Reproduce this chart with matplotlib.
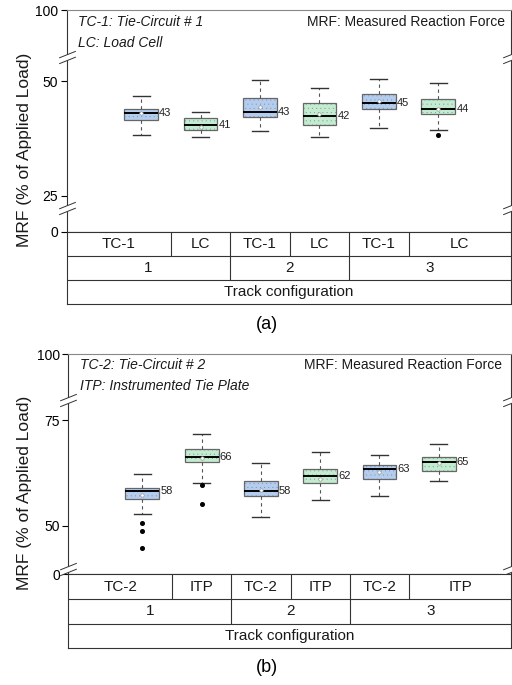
import matplotlib
matplotlib.use('Agg')
import matplotlib.pyplot as plt
import numpy as np
from matplotlib.path import Path
from matplotlib.patches import PathPatch
from matplotlib import transforms

plt.rcParams['font.family'] = ['Liberation Sans', 'DejaVu Sans']
plt.rcParams['hatch.linewidth'] = 0.1

# ---- data ----
configs = ['1', '2', '3']
labels_a = ['TC-1', 'LC', 'TC-1', 'LC', 'TC-1', 'LC']
labels_b = ['TC-2', 'ITP', 'TC-2', 'ITP', 'TC-2', 'ITP']

a_whislo = [38.3, 37.8, 39.2, 37.8, 39.9, 39.3]
a_q1 = [41.5, 39.4, 42.3, 40.5, 43.9, 43.0]
a_med = [43.2, 40.5, 43.3, 42.4, 45.2, 43.9]
a_q3 = [44.1, 42.0, 46.3, 45.3, 47.3, 46.2]
a_whishi = [46.8, 43.4, 50.3, 48.5, 50.5, 49.6]
a_mean = [43.2, 40.0, 44.5, 43.0, 45.7, 44.1]
a_fliers = [[], [], [], [], [], [38.4]]
a_values = [43, 41, 43, 42, 45, 44]

b_whislo = [52.8, 60.1, 52.0, 56.0, 57.0, 60.6]
b_q1 = [56.3, 65.0, 57.0, 60.1, 61.1, 63.1]
b_med = [58.2, 66.4, 58.3, 61.9, 63.4, 65.0]
b_q3 = [59.0, 68.2, 60.7, 63.4, 64.5, 66.3]
b_whishi = [62.2, 71.8, 64.9, 67.4, 66.7, 69.3]
b_mean = [57.4, 66.0, 58.5, 61.2, 62.7, 64.8]
b_fliers = [[50.6, 48.8, 44.7], [59.6, 55.1], [], [], [], []]
b_values = [58, 66, 58, 62, 63, 65]

blue = '#b4cdef'
green = '#c3ebd0'
box_colors = [blue, green, blue, green, blue, green]

W, H = 512, 685
fig = plt.figure(figsize=(W / 100, H / 100), dpi=100)


def rect(left, top, right, bottom):
    return [left / W, 1 - bottom / H, (right - left) / W, (bottom - top) / H]


# marker for the axis break: white gap + two slanted strokes
gap_marker = Path([(-1, -0.75), (1, 0.05), (1, 0.75), (-1, -0.05), (-1, -0.75)],
                  [Path.MOVETO, Path.LINETO, Path.LINETO, Path.LINETO, Path.CLOSEPOLY])
slash_marker = Path([(-1, -0.05), (1, 0.75), (-1, -0.75), (1, 0.05)],
                    [Path.MOVETO, Path.LINETO, Path.MOVETO, Path.LINETO])


def panel(main_px, table_bottom, knots_val, knots_pos, yticks, breaks,
          whislo, q1, med, q3, whishi, mean, fliers, values, row0, notes):
    left, top, right, bottom = main_px
    ax = fig.add_axes(rect(left, top, right, bottom))
    fwd = lambda y: np.interp(y, knots_val, knots_pos)
    inv = lambda p: np.interp(p, knots_pos, knots_val)
    ax.set_yscale('function', functions=(fwd, inv))
    ax.set_ylim(0, 100)
    ax.set_xlim(-0.25, 7.22)

    stats = []
    for i in range(6):
        stats.append(dict(whislo=whislo[i], q1=q1[i], med=med[i], q3=q3[i],
                          whishi=whishi[i], mean=mean[i], fliers=fliers[i]))
    pos = np.arange(1, 7)
    bp = ax.bxp(stats, positions=pos, widths=0.57, patch_artist=True, showmeans=True,
                boxprops=dict(edgecolor='#666666', linewidth=0.9),
                medianprops=dict(color='black', linewidth=1.4, zorder=4),
                whiskerprops=dict(color='#555555', linewidth=0.8, linestyle=(0, (3, 3))),
                capprops=dict(color='#333333', linewidth=1.0),
                meanprops=dict(marker='o', markersize=2.5, markerfacecolor='white',
                               markeredgecolor='#999999', markeredgewidth=0.5, zorder=4),
                flierprops=dict(marker='o', markersize=2.6, markerfacecolor='black',
                                markeredgecolor='black'))
    for patch, c in zip(bp['boxes'], box_colors):
        patch.set_facecolor(c)
        # light dotted texture drawn on top of the fill
        tex = PathPatch(patch.get_path(), transform=patch.get_transform(),
                        facecolor='none', edgecolor='#6f7f8f', linewidth=0,
                        hatch='....', zorder=patch.get_zorder() + 0.1)
        ax.add_patch(tex)
    for x, m, v in zip(pos, med, values):
        ax.text(x + 0.3, m, str(v), fontsize=8, ha='left', va='center', color='#222222')

    ax.set_yticks(yticks)
    ax.set_yticklabels([str(t) for t in yticks])
    ax.set_xticks([])
    ax.yaxis.set_minor_locator(matplotlib.ticker.NullLocator())
    ax.tick_params(axis='y', length=4, width=0.8, labelsize=10, pad=2)
    for s in ax.spines.values():
        s.set_linewidth(0.8)
        s.set_color('#333333')
    ax.spines['top'].set_color('#888888')

    # axis breaks on both sides
    for xa in (0, 1):
        tr = transforms.blended_transform_factory(ax.transAxes, ax.transData)
        for b in breaks:
            ax.plot([xa], [b], marker=gap_marker, markersize=12, color='white',
                    markeredgewidth=0, transform=tr, clip_on=False, zorder=5)
            ax.plot([xa], [b], marker=slash_marker, markersize=12, color='#333333',
                    markerfacecolor='none', markeredgewidth=0.7, linestyle='none',
                    transform=tr, clip_on=False, zorder=6)

    # category table below the plot
    tax = fig.add_axes(rect(left, bottom, right, table_bottom))
    tax.set_xlim(-0.25, 7.22)
    tax.set_ylim(3, 0)
    tax.set_xticks([])
    tax.set_yticks([])
    for s in tax.spines.values():
        s.set_linewidth(0.8)
        s.set_color('#333333')
    tax.hlines([1, 2], -0.25, 7.22, color='#333333', linewidth=0.8)
    tax.vlines([1.5, 2.5, 3.5, 4.5, 5.5], 0, 1, color='#333333', linewidth=0.8)
    tax.vlines([2.5, 4.5], 1, 2, color='#333333', linewidth=0.8)
    col_edges = [-0.25, 1.5, 2.5, 3.5, 4.5, 5.5, 7.22]
    for i, lab in enumerate(row0):
        tax.text((col_edges[i] + col_edges[i + 1]) / 2, 0.5, lab, ha='center', va='center',
                 fontsize=11, color='#1a1a1a')
    grp_edges = [-0.25, 2.5, 4.5, 7.22]
    for i, lab in enumerate(configs):
        tax.text((grp_edges[i] + grp_edges[i + 1]) / 2, 1.5, lab, ha='center', va='center',
                 fontsize=11, color='#1a1a1a')
    tax.text(np.mean(tax.get_xlim()), 2.5, 'Track configuration', ha='center', va='center',
             fontsize=11, color='#1a1a1a')

    for txt, x, y, ha, style in notes:
        fig.text(x / W, 1 - y / H, txt, ha=ha, va='center', fontsize=10, style=style,
                 color='#1a1a1a')
    return ax


panel((66.7, 10, 511, 231.7), 304.3, [0, 22.4, 55.3, 100], [0, 23.7, 173.7, 220.7],
      [0, 25, 50, 100], [22.4, 55.3],
      a_whislo, a_q1, a_med, a_q3, a_whishi, a_mean, a_fliers, a_values, labels_a,
      [('TC-1: Tie-Circuit # 1', 77.7, 22.3, 'left', 'italic'),
       ('LC: Load Cell', 77.7, 42.7, 'left', 'italic'),
       ('MRF: Measured Reaction Force', 505, 22.3, 'right', 'normal')])

panel((68.3, 354, 511, 574.3), 648.3, [0, 39.7, 79.8, 100], [0, 5, 174.3, 220.3],
      [0, 50, 75, 100], [39.7, 79.8],
      b_whislo, b_q1, b_med, b_q3, b_whishi, b_mean, b_fliers, b_values, labels_b,
      [('TC-2: Tie-Circuit # 2', 80, 365, 'left', 'italic'),
       ('ITP: Instrumented Tie Plate', 80, 385.7, 'left', 'italic'),
       ('MRF: Measured Reaction Force', 501.7, 365, 'right', 'normal')])

fig.text(25 / W, 1 - 150 / H, 'MRF (% of Applied Load)', rotation=90, ha='center',
         va='center', fontsize=12.5, color='#1a1a1a')
fig.text(25 / W, 1 - 493 / H, 'MRF (% of Applied Load)', rotation=90, ha='center',
         va='center', fontsize=12.5, color='#1a1a1a')
fig.text(266.7 / W, 1 - 324 / H, '(a)', ha='center', va='center', fontsize=13)
fig.text(266.7 / W, 1 - 668 / H, '(b)', ha='center', va='center', fontsize=13)

fig.savefig('out.png', dpi=100)
